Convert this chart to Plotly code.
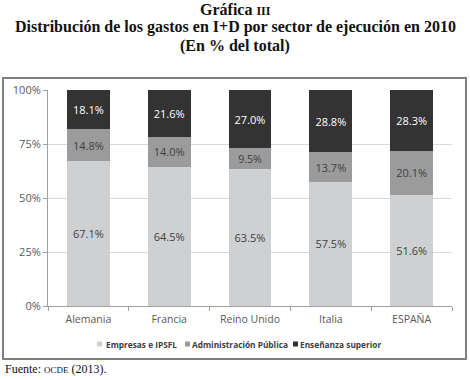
import plotly.graph_objects as go

categories = ["Alemania", "Francia", "Reino Unido", "Italia", "ESPAÑA"]
empresas = [67.1, 64.5, 63.5, 57.5, 51.6]
administracion = [14.8, 14.0, 9.5, 13.7, 20.1]
ensenanza = [18.1, 21.6, 27.0, 28.8, 28.3]
series_names = ["Empresas e IPSFL", "Administración Pública", "Enseñanza superior"]
y_ticks = [0, 25, 50, 75, 100]
y_tick_labels = ["0%", "25%", "50%", "75%", "100%"]

colors = ["#cfd0d2", "#9b9b9b", "#333333"]
text_colors = ["#404040", "#404040", "#ffffff"]

fig = go.Figure()
for name, vals, c, tc in zip(series_names, [empresas, administracion, ensenanza], colors, text_colors):
    fig.add_trace(go.Bar(
        x=categories, y=vals, name=name,
        marker=dict(color=c, line=dict(width=0)),
        text=[f"{v:.1f}%" for v in vals],
        textposition="inside", insidetextanchor="middle",
        textfont=dict(family="Open Sans, sans-serif", size=11, color=tc),
        textangle=0,
        width=0.53,
        showlegend=False,
    ))

W, H = 470, 380
# target pixel positions of the plot area
PL, PR, PT, PB = 48, 452, 90, 306
L, R, T, B = PL, W - PR, PT, H - PB
pw = PR - PL
ph = PB - PT

def px2x(px):
    return (px - PL) / pw

def py2y(py):
    return (PB - py) / ph

fig.update_layout(
    width=W, height=H,
    margin=dict(l=L, r=R, t=T, b=B, autoexpand=False),
    paper_bgcolor="white", plot_bgcolor="white",
    barmode="stack", barnorm="percent",
    showlegend=False,
    font=dict(family="Open Sans, sans-serif", color="#595959"),
    xaxis=dict(type="category", tickson="boundaries", ticks="outside", ticklen=4,
               tickcolor="#a0a0a0", showline=True, linecolor="#a0a0a0", linewidth=1,
               tickfont=dict(size=10.5, color="#595959"), showgrid=False,
               ticklabelstandoff=3),
    yaxis=dict(range=[0, 100], tickvals=y_ticks, ticktext=y_tick_labels,
               ticks="outside", ticklen=4, tickcolor="#a0a0a0",
               showline=True, linecolor="#a0a0a0", linewidth=1,
               showgrid=True, gridcolor="#d9d9d9", gridwidth=1,
               tickfont=dict(size=11, color="#595959"), zeroline=False),
)

# outer chart border
fig.add_shape(type="rect", xref="paper", yref="paper",
              x0=px2x(3), x1=px2x(466), y0=py2y(359), y1=py2y(78),
              line=dict(color="#7f7f7f", width=2), fillcolor="rgba(0,0,0,0)", layer="below")

# manual legend
leg_y = 344
leg_items = [(97, 104), (185, 190), (293, 298)]
for (sq_x, tx), name, c in zip(leg_items, series_names, colors):
    fig.add_shape(type="rect", xref="paper", yref="paper",
                  x0=px2x(sq_x), x1=px2x(sq_x + 5), y0=py2y(leg_y + 2.5), y1=py2y(leg_y - 2.5),
                  line=dict(width=0), fillcolor=c)
    fig.add_annotation(text=f"<b>{name}</b>", xref="paper", yref="paper",
                       x=px2x(tx), y=py2y(leg_y), xanchor="left", yanchor="middle",
                       showarrow=False,
                       font=dict(family="Open Sans, sans-serif", size=8.3, color="#404040"))

serif = "Liberation Serif, Times New Roman, serif"
titles = [
    ("<b>Gráfica <span style='font-size:12px'>III</span></b>", 9),
    ("<b>Distribución de los gastos en I+D por sector de ejecución en 2010</b>", 27),
    ("<b>(En % del total)</b>", 46),
]
for txt, py in titles:
    fig.add_annotation(text=txt, xref="paper", yref="paper", x=px2x(235), y=py2y(py),
                       xanchor="center", yanchor="middle", showarrow=False,
                       font=dict(family=serif, size=16, color="#111111"))

fig.add_annotation(text="Fuente: <span style='font-size:9px'>OCDE</span> (2013).",
                   xref="paper", yref="paper", x=px2x(3), y=py2y(369),
                   xanchor="left", yanchor="middle", showarrow=False,
                   font=dict(family=serif, size=12, color="#111111"))

fig.write_html("out.html", config={"displayModeBar": False},
               post_script="document.body.style.margin='0';")
